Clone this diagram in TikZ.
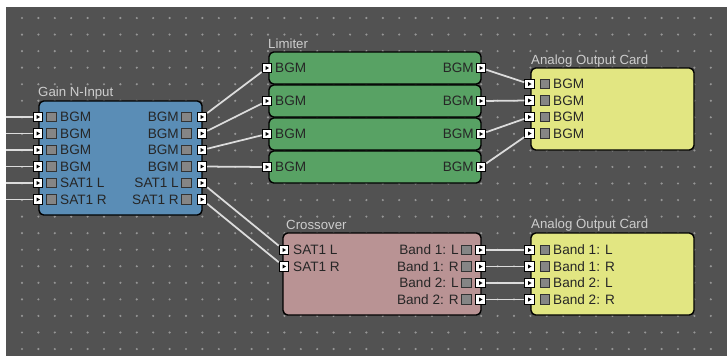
\documentclass[tikz,border=0pt]{standalone}
\usepackage{fontspec}
\setmainfont{Liberation Sans}
\definecolor{panel}{HTML}{525252}
\definecolor{griddot}{HTML}{969696}
\definecolor{gainblue}{HTML}{5A8DB6}
\definecolor{limgreen}{HTML}{58A264}
\definecolor{xovpink}{HTML}{B99394}
\definecolor{cardyellow}{HTML}{E2E682}
\definecolor{wirec}{HTML}{DCDCDC}
\definecolor{titlec}{HTML}{CDCDCD}
\definecolor{cellgray}{HTML}{858585}
\begin{document}
\begin{tikzpicture}[x=0.03cm,y=-0.03cm,
	blk/.style={draw=black,line width=1.2pt,rounded corners=4pt},
	port/.style={draw=black,fill=white,line width=0.7pt,minimum size=0.29cm,inner sep=0pt,
		path picture={\fill[black] (path picture bounding box.center) ++(-1.4,-2) -- ++(3.4,2) -- ++(-3.4,2) -- cycle;}},
	cell/.style={draw=black!80,fill=cellgray,line width=0.7pt,minimum size=0.29cm,inner sep=0pt},
	lbl/.style={inner sep=0pt,text=black!85,font=\fontsize{11.6}{13}\selectfont},
	ttl/.style={inner sep=0pt,anchor=west,text=titlec,font=\fontsize{11.3}{13}\selectfont},
	wire/.style={draw=wirec,line width=1.5pt}]
		\useasboundingbox (0,0) rectangle (727,356);
		\fill[white] (0,0) rectangle (727,356);
		\fill[panel] (6,7) rectangle (727,356);
		\foreach \i in {0,...,42}
			\foreach \j in {0,...,20}
				\fill[griddot] (22+16.4*\i,18+16.55*\j) circle (1.2);
		\filldraw[blk,fill=gainblue] (39,101) rectangle (202,215);
		\foreach \y in {52,85,118,151}
			\filldraw[blk,fill=limgreen] (269,\y) rectangle (481,\y+32);
		\filldraw[blk,fill=cardyellow] (531,68) rectangle (694,150);
		\filldraw[blk,fill=xovpink] (283,233) rectangle (481,315);
		\filldraw[blk,fill=cardyellow] (531,233) rectangle (694,315);
		\node[ttl] (gaintitle) at (38,93) {Gain N-Input};
		\node[ttl] (limtitle) at (268,44) {Limiter};
		\node[ttl] (cardatitle) at (531,61) {Analog Output Card};
		\node[ttl] (xovtitle) at (286,225) {Crossover};
		\node[ttl] (cardbtitle) at (531,225) {Analog Output Card};
		\foreach \t [count=\k from 0] in {BGM,BGM,BGM,BGM,SAT1 L,SAT1 R} {
			\node[port] (gin\k) at (38,117+16.5*\k) {};
			\node[cell] (ginc\k) at (51.5,117+16.5*\k) {};
			\node[lbl,anchor=west] (ginl\k) at (60,117+16.5*\k) {\t};
			\node[port] (gout\k) at (202,117+16.5*\k) {};
			\node[cell] (goutc\k) at (186.5,117+16.5*\k) {};
			\node[lbl,anchor=east] (goutl\k) at (179,117+16.5*\k) {\t};
			\coordinate (src\k) at (6,117+16.5*\k);
		}
		\foreach \y [count=\k from 0] in {68,101,134,167} {
			\node[port] (limin\k) at (267,\y) {};
			\node[lbl,anchor=west] (liminl\k) at (275,\y) {BGM};
			\node[port] (limout\k) at (481,\y) {};
			\node[lbl,anchor=east] (limoutl\k) at (474,\y) {BGM};
		}
		\foreach \k in {0,...,3} {
			\node[port] (carda\k) at (529.5,84+16.5*\k) {};
			\node[cell] (cardac\k) at (545,84+16.5*\k) {};
			\node[lbl,anchor=west] (cardal\k) at (553,84+16.5*\k) {BGM};
		}
		\foreach \t [count=\k from 0] in {SAT1 L,SAT1 R} {
			\node[port] (xovin\k) at (284,250+16.5*\k) {};
			\node[lbl,anchor=west] (xovinl\k) at (293,250+16.5*\k) {\t};
		}
		\foreach \t [count=\k from 0] in {Band 1: L,Band 1: R,Band 2: L,Band 2: R} {
			\node[port] (xovout\k) at (480.5,250+16.5*\k) {};
			\node[cell] (xovoutc\k) at (466.5,250+16.5*\k) {};
			\node[lbl,anchor=east] (xovoutl\k) at (459,250+16.5*\k) {\t};
			\node[port] (cardb\k) at (529.5,250+16.5*\k) {};
			\node[cell] (cardbc\k) at (545,250+16.5*\k) {};
			\node[lbl,anchor=west] (cardbl\k) at (553,250+16.5*\k) {\t};
		}
		\foreach \k in {0,...,5}
			\draw[wire] (src\k) -- (gin\k);
		\foreach \k in {0,...,3} {
			\draw[wire] (gout\k) -- (limin\k);
			\draw[wire] (limout\k) -- (carda\k);
			\draw[wire] (xovout\k) -- (cardb\k);
		}
		\draw[wire] (gout4) -- (xovin0);
		\draw[wire] (gout5) -- (xovin1);
\end{tikzpicture}
\end{document}
